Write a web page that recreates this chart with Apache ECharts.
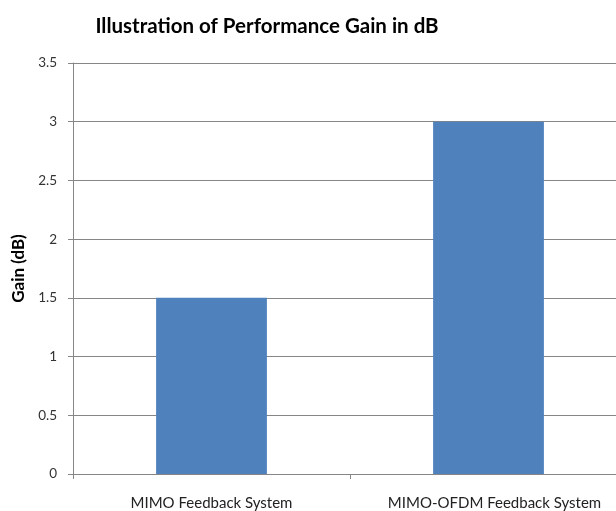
<!DOCTYPE html>
<html>
<head>
<meta charset="utf-8">
<script src="https://cdn.jsdelivr.net/npm/echarts@6/dist/echarts.min.js"></script>
<style>
  html, body { margin: 0; padding: 0; background: #fff; overflow: hidden; }
  body { width: 616px; height: 511px; }
  /* the plot area runs past the right edge of the visible page */
  #chart { width: 640px; height: 511px; }
</style>
</head>
<body>
<div id="chart"></div>
<script>
// Gain per system, in dB
const categories = ['MIMO Feedback System', 'MIMO-OFDM Feedback System'];
const gainValues = [1.5, 3];
const yTicks = { min: 0, max: 3.5, interval: 0.5 };

const chart = echarts.init(document.getElementById('chart'));
const font = 'Lato, "Open Sans", sans-serif';

// the last category label sits slightly right of its slot centre
const categoryData = categories.map((name, i) =>
  i === categories.length - 1
    ? { value: name, textStyle: { padding: [0, 0, 0, 12] } }
    : name
);

chart.setOption({
  backgroundColor: '#ffffff',
  animation: false,
  title: {
    text: 'Illustration of Performance Gain in dB',
    left: 262,
    textAlign: 'center',
    top: 11,
    textStyle: { fontFamily: font, fontSize: 20.5, fontWeight: 'bold', color: '#000' }
  },
  grid: { left: 73, right: 13, top: 63, height: 411, containLabel: false },
  xAxis: {
    type: 'category',
    data: categoryData,
    axisLine: { lineStyle: { color: '#868686', width: 1 } },
    axisTick: { show: true, length: 5, alignWithLabel: false, lineStyle: { color: '#868686' } },
    axisLabel: { interval: 0, fontFamily: font, fontSize: 15, color: '#222', margin: 22 }
  },
  yAxis: {
    type: 'value',
    min: yTicks.min,
    max: yTicks.max,
    interval: yTicks.interval,
    name: 'Gain (dB)',
    nameLocation: 'middle',
    nameGap: 45,
    nameTextStyle: { fontFamily: font, fontSize: 17, fontWeight: 'bold', color: '#000' },
    axisLine: { show: true, lineStyle: { color: '#868686', width: 1 } },
    axisTick: { show: true, length: 5, lineStyle: { color: '#868686' } },
    axisLabel: { fontFamily: font, fontSize: 13.5, color: '#333', margin: 16 },
    splitLine: { show: true, lineStyle: { color: '#868686', width: 1 } }
  },
  series: [{
    type: 'bar',
    data: gainValues,
    barWidth: '40%',
    itemStyle: { color: '#4F81BD' }
  }]
});
</script>
</body>
</html>
